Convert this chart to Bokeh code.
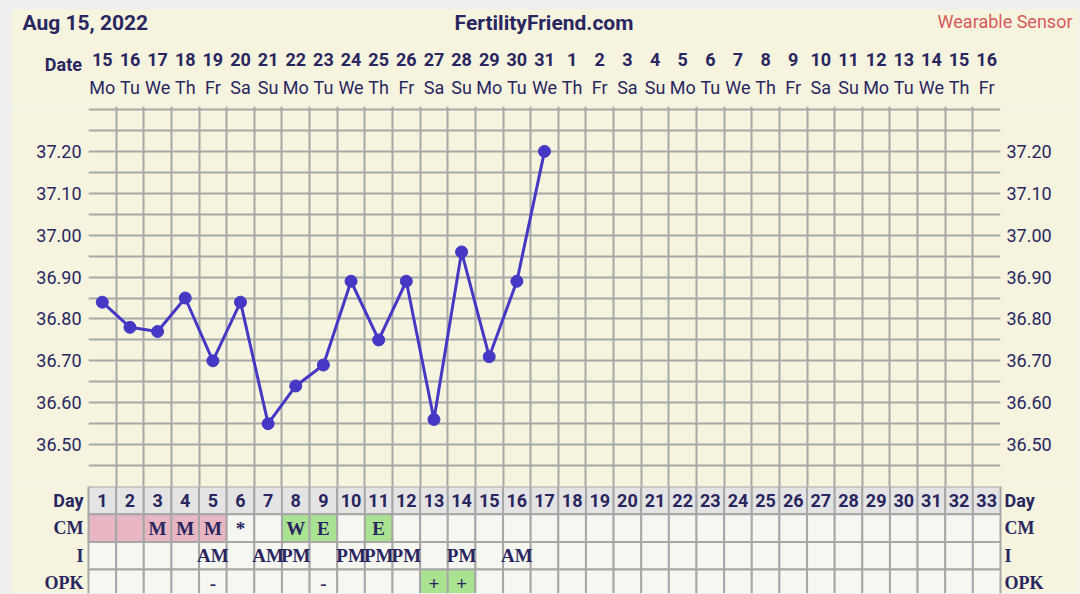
from bokeh.plotting import figure
from bokeh.models import Range1d, FixedTicker, LinearAxis, NumeralTickFormatter
from bokeh.layouts import column
from bokeh.embed import file_html
from bokeh.resources import INLINE
from bokeh.core.properties import value

# ---------------- data ----------------
title_text = "Aug 15, 2022"
site_text = "FertilityFriend.com"
sensor_text = "Wearable Sensor"
date_axis_title = "Date"

cycle_days = list(range(1, 34))
date_labels = [str(d) for d in range(15, 32)] + [str(d) for d in range(1, 17)]
weekday_labels = ["Mo", "Tu", "We", "Th", "Fr", "Sa", "Su",
                  "Mo", "Tu", "We", "Th", "Fr", "Sa", "Su",
                  "Mo", "Tu", "We", "Th", "Fr", "Sa", "Su",
                  "Mo", "Tu", "We", "Th", "Fr", "Sa", "Su",
                  "Mo", "Tu", "We", "Th", "Fr"]

temp_days = list(range(1, 18))
temps = [36.84, 36.78, 36.77, 36.85, 36.70, 36.84, 36.55, 36.64, 36.69,
         36.89, 36.75, 36.89, 36.56, 36.96, 36.71, 36.89, 37.20]
temp_ticks = [36.50, 36.60, 36.70, 36.80, 36.90, 37.00, 37.10, 37.20]

row_labels = ["Day", "CM", "I", "OPK"]

cm_days = [3, 4, 5, 6, 8, 9, 11]
cm_marks = ["M", "M", "M", "*", "W", "E", "E"]
period_days = [1, 2, 3, 4, 5]
fertile_cm_days = [8, 9, 11]

intercourse_days = [5, 7, 8, 10, 11, 12, 14, 16]
intercourse_marks = ["AM", "AM", "PM", "PM", "PM", "PM", "PM", "AM"]

opk_days = [5, 9, 13, 14]
opk_marks = ["-", "-", "+", "+"]
opk_positive_days = [13, 14]

# ---------------- style / layout ----------------
CREAM = "#f6f4df"
GRID = "#a7a7a7"
NAVY = "#29265f"
LINE = "#4538c4"
DAYROW = "#e4e4e4"
CELL = "#f7f7f2"
PINK = "#e8b6c2"
GREEN = "#a9e290"
RED = "#d65a5a"
SANS = "Roboto"
SERIF = "Liberation Serif"

PAGE_X0, PAGE_Y0 = 11, 9          # top-left corner of the chart on the page
W = 1068
GRID_L, GRID_R = 88, 1000         # page x of the day grid edges
PX_PER_DAY = (GRID_R - GRID_L) / 33
Y_TOP_TEMP, Y_BOT_TEMP = 109, 486  # page y of 37.30 and 36.40
YMIN, YMAX = 36.40, 37.30
DEG_PER_PX = (YMAX - YMIN) / (Y_BOT_TEMP - Y_TOP_TEMP)
CHART_TOP = 106
ROWH = 27.7
PAGE_BOTTOM = 593

def xpos(px):
    return 0.5 + (px - GRID_L) / PX_PER_DAY

full_x = Range1d(xpos(PAGE_X0), xpos(PAGE_X0 + W))

def base_fig(height, x_range, y_range, **kw):
    f = figure(width=W, height=height, x_range=x_range, y_range=y_range,
               output_backend="svg", toolbar_location=None, frame_align=False,
               background_fill_color=CREAM, border_fill_color=CREAM, outline_line_color=None, **kw)
    return f

# ---------------- header (title, dates, weekdays) ----------------
hdr_h = CHART_TOP - PAGE_Y0
h = base_fig(hdr_h, full_x, Range1d(CHART_TOP, PAGE_Y0),
             x_axis_location=None, y_axis_location=None,
             min_border_left=0, min_border_right=0, min_border_top=0, min_border_bottom=0)
h.grid.visible = False

mid = dict(text_baseline="middle")
h.text(x=[xpos(22)], y=[22.5], text=[title_text], text_font=value(SANS), text_font_style="bold",
       text_font_size="21px", text_color=NAVY, text_align="left", **mid)
h.text(x=[xpos(543.5)], y=[22.5], text=[site_text], text_font=value(SANS), text_font_style="bold",
       text_font_size="21px", text_color=NAVY, text_align="center", **mid)
h.text(x=[xpos(1072)], y=[20.5], text=[sensor_text], text_font=value(SANS), text_font_style="normal",
       text_font_size="18px", text_color=RED, text_align="right", **mid)
h.text(x=[xpos(81.5)], y=[64], text=[date_axis_title], text_font=value(SANS), text_font_style="bold",
       text_font_size="18px", text_color=NAVY, text_align="right", **mid)
h.text(x=cycle_days, y=[58.5] * len(cycle_days), text=date_labels, text_font=value(SANS),
       text_font_style="bold", text_font_size="18px", text_color=NAVY,
       text_align="center", **mid)
h.text(x=cycle_days, y=[86.5] * len(cycle_days), text=weekday_labels, text_font=value(SANS),
       text_font_style="normal", text_font_size="18px", text_color=NAVY,
       text_align="center", **mid)

# ---------------- temperature chart ----------------
ch_h = Y_BOT_TEMP - CHART_TOP
p = base_fig(ch_h, Range1d(0.5, 33.5),
             Range1d(YMIN, YMAX + (Y_TOP_TEMP - CHART_TOP) * DEG_PER_PX),
             x_axis_location=None, y_axis_location="left",
             min_border_left=GRID_L - PAGE_X0, min_border_right=PAGE_X0 + W - GRID_R,
             min_border_top=0, min_border_bottom=0)

def style_axis(ax, standoff):
    ax.ticker = FixedTicker(ticks=temp_ticks)
    ax.formatter = NumeralTickFormatter(format="0.00")
    ax.major_tick_in = 0
    ax.major_tick_out = 0
    ax.minor_tick_in = 0
    ax.minor_tick_out = 0
    ax.axis_line_color = None
    ax.major_label_text_font = SANS
    ax.major_label_text_font_size = "18px"
    ax.major_label_text_font_style = "normal"
    ax.major_label_text_color = NAVY
    ax.major_label_standoff = standoff

style_axis(p.yaxis[0], 7)
right_axis = LinearAxis()
style_axis(right_axis, 6)
p.add_layout(right_axis, "right")

p.xgrid.ticker = FixedTicker(ticks=[d - 0.5 for d in cycle_days] + [cycle_days[-1] + 0.5])
p.ygrid.ticker = FixedTicker(ticks=[round(YMIN + 0.05 * i, 2) for i in range(19)])
for g in (p.xgrid, p.ygrid):
    g.grid_line_color = GRID
    g.grid_line_width = 2
    g.grid_line_alpha = 1.0

p.line(temp_days, temps, line_color=LINE, line_width=3)
p.scatter(temp_days, temps, size=12, fill_color=LINE, line_color=LINE)

# ---------------- table ----------------
tb_h = PAGE_BOTTOM - Y_BOT_TEMP
t = base_fig(tb_h, full_x, Range1d(tb_h / ROWH, 0),
             x_axis_location=None, y_axis_location=None,
             min_border_left=0, min_border_right=0, min_border_top=0, min_border_bottom=0)
t.grid.visible = False

cell_x, cell_y, cell_c = [], [], []
for r in range(len(row_labels)):
    for d in cycle_days:
        if r == 0:
            c = DAYROW
        elif r == 1 and d in period_days:
            c = PINK
        elif r == 1 and d in fertile_cm_days:
            c = GREEN
        elif r == 3 and d in opk_positive_days:
            c = GREEN
        else:
            c = CELL
        cell_x.append(d)
        cell_y.append(r + 0.5)
        cell_c.append(c)

t.rect(x=cell_x, y=cell_y, width=1, height=1, fill_color=cell_c, line_color=GRID, line_width=2)

t.text(x=cycle_days, y=[0.5] * len(cycle_days), text=[str(d) for d in cycle_days],
       text_font=value(SANS), text_font_style="bold", text_font_size="18px", text_color=NAVY,
       text_align="center", text_baseline="middle")

serif_kw = dict(text_font=value(SERIF), text_font_style="bold", text_font_size="19px",
                text_color=NAVY, text_align="center", text_baseline="middle")
t.text(x=cm_days, y=[1.5] * len(cm_days), text=cm_marks, **serif_kw)
t.text(x=intercourse_days, y=[2.5] * len(intercourse_days), text=intercourse_marks, **serif_kw)
t.text(x=opk_days, y=[3.5] * len(opk_days), text=opk_marks, **serif_kw)

row_y = [i + 0.5 for i in range(len(row_labels))]
for xpx, align in ((83, "right"), (1004, "left")):
    t.text(x=[xpos(xpx)], y=row_y[:1], text=row_labels[:1], text_font=value(SANS),
           text_font_style="bold", text_font_size="18px", text_color=NAVY,
           text_align=align, text_baseline="middle")
    t.text(x=[xpos(xpx)] * 3, y=row_y[1:], text=row_labels[1:], text_font=value(SERIF),
           text_font_style="bold", text_font_size="18px", text_color=NAVY,
           text_align=align, text_baseline="middle")

layout = column(h, p, t, spacing=0)
layout.margin = (PAGE_Y0, 0, 0, PAGE_X0)

html = file_html(layout, INLINE)
html = html.replace("<head>", "<head>\n<style>body{background:#efefef;}</style>", 1)
open("out.html", "w").write(html)
